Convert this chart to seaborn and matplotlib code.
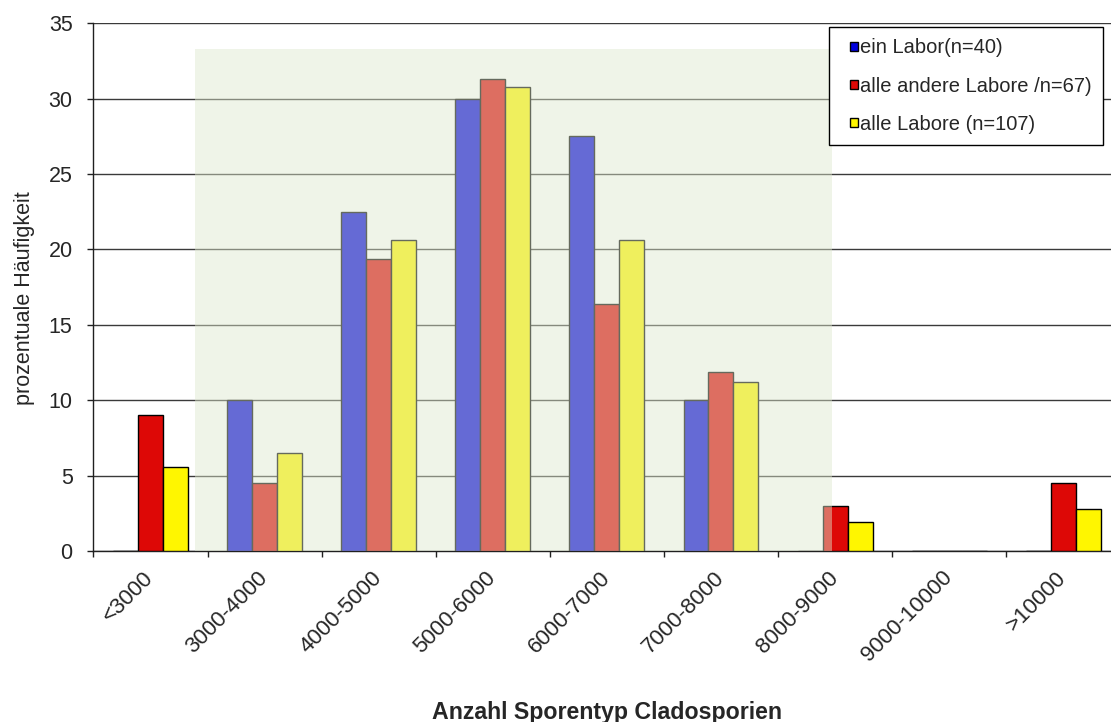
import matplotlib
matplotlib.use("Agg")
import matplotlib.pyplot as plt
from matplotlib.patches import Patch, Rectangle
from matplotlib.legend_handler import HandlerPatch
import pandas as pd
import seaborn as sns

# Klassen der Sporenzahl
categories = ["<3000", "3000-4000", "4000-5000", "5000-6000", "6000-7000",
              "7000-8000", "8000-9000", "9000-10000", ">10000"]

# Prozentuale Häufigkeit je Gruppe
series_names = ["ein Labor(n=40)", "alle andere Labore /n=67)", "alle Labore (n=107)"]
ein_labor = [0, 10.0, 22.5, 30.0, 27.5, 10.0, 0, 0, 0]
andere_labore = [9.0, 4.5, 19.4, 31.3, 16.4, 11.9, 3.0, 0, 4.5]
alle_labore = [5.6, 6.5, 20.6, 30.8, 20.6, 11.2, 1.9, 0, 2.8]

y_ticks = [0, 5, 10, 15, 20, 25, 30, 35]

colors = ["#0000DD", "#DD0806", "#FFF600"]

df = pd.DataFrame({
    "Klasse": categories * 3,
    "Gruppe": [series_names[0]] * 9 + [series_names[1]] * 9 + [series_names[2]] * 9,
    "Anteil": ein_labor + andere_labore + alle_labore,
})

sns.set_theme(style="white")
plt.rcParams["font.family"] = ["Liberation Sans", "DejaVu Sans"]

fig = plt.figure(figsize=(11.11, 7.22), dpi=100)
ax = fig.add_axes([0.0841, 0.2368, 0.9243, 0.7309])

sns.barplot(data=df, x="Klasse", y="Anteil", hue="Gruppe", order=categories,
            hue_order=series_names, palette=colors, width=0.657,
            edgecolor="black", linewidth=1.0, saturation=1, legend=False, ax=ax,
            zorder=3)

ax.set_xlim(-0.5, len(categories) - 0.5)
ax.set_ylim(0, 35)
ax.set_yticks(y_ticks)
ax.yaxis.grid(True, color="#3a3a3a", linewidth=1.0, zorder=1)
ax.set_axisbelow(True)

for side in ["top", "right"]:
    ax.spines[side].set_visible(False)
for side in ["left", "bottom"]:
    ax.spines[side].set_color("#202020")
    ax.spines[side].set_linewidth(1.0)

ax.tick_params(axis="y", which="major", left=True, length=4.5, width=1,
               color="#202020", labelsize=15.5, pad=10.5)
ax.tick_params(axis="x", which="major", bottom=False, length=0, labelsize=16, pad=17)
ax.set_xticks([i - 0.5 for i in range(len(categories) + 1)], minor=True)
ax.tick_params(axis="x", which="minor", bottom=True, length=4.5, width=1, color="#202020")
for lbl in ax.get_xticklabels():
    lbl.set_rotation(45)
    lbl.set_ha("right")
    lbl.set_va("center")
    lbl.set_rotation_mode("anchor")

ax.set_ylabel("prozentuale Häufigkeit", fontsize=15.5)
ax.yaxis.set_label_coords(-0.057, 0.48)
ax.set_xlabel("Anzahl Sporentyp Cladosporien", fontsize=16.7, fontweight="bold")
ax.xaxis.set_label_coords(0.5, -0.3275)
ax.xaxis.label.set_va("bottom")

# hervorgehobener Bereich 3000-8000, halbtransparent über den Balken
band_start, band_end, band_top = 0.39, 5.97, 33.3
ax.add_patch(Rectangle((band_start, 0), band_end - band_start, band_top,
                       facecolor=(222 / 255, 232 / 255, 205 / 255), alpha=0.46,
                       linewidth=0, zorder=6))


def small_square(legend, orig_handle, xdescent, ydescent, width, height, fontsize):
    # kleines Farbkästchen am rechten Rand des Symbolfelds
    w, h = 6.0, 6.4
    return Rectangle((-xdescent + width - w, -ydescent + (height - h) / 2), w, h)


handles = [Patch(facecolor=c, edgecolor="black", linewidth=1.0) for c in colors]
leg = fig.legend(handles, series_names, loc="upper right",
                 bbox_to_anchor=(1103 / 1111, 1 - 27 / 722),
                 bbox_transform=fig.transFigure, fontsize=14.5, frameon=True,
                 fancybox=False, shadow=False, framealpha=1, edgecolor="black",
                 handlelength=0.85, handleheight=0.5, handletextpad=0.1,
                 labelspacing=0.95, borderpad=0.57, borderaxespad=0,
                 handler_map={Patch: HandlerPatch(patch_func=small_square)})
leg.get_frame().set_linewidth(1.0)
leg.set_zorder(10)

fig.savefig("out.png", dpi=100)
